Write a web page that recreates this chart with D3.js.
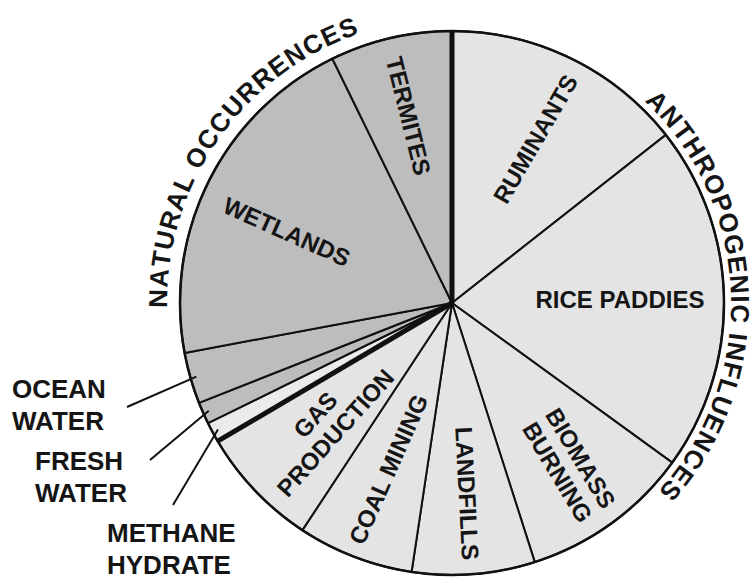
<!DOCTYPE html>
<html>
<head>
<meta charset="utf-8">
<script src="https://cdn.jsdelivr.net/npm/d3@7"></script>
<style>
    body { margin: 0; background: #ffffff; }
    text { font-family: "Liberation Sans", Arial, sans-serif; font-weight: bold; fill: #151515; }
</style>
</head>
<body>
<div id="chart"></div>
<script>
/*
 * Methane sources pie
 * Slices run clockwise from 12 o'clock, anthropogenic first, then natural.
 */

// share of total (percent)
var categories = ["RUMINANTS", "RICE PADDIES", "BIOMASS BURNING", "LANDFILLS", "COAL MINING",
                  "GAS PRODUCTION", "METHANE HYDRATE", "FRESH WATER", "OCEAN WATER", "WETLANDS", "TERMITES"];
var shares     = [14.4, 20.6, 10.1, 7.3, 6.9, 7.25, 1.2, 1.3, 3.05, 20.7, 7.25];
var groups     = ["anthropogenic", "anthropogenic", "anthropogenic", "anthropogenic", "anthropogenic",
                  "anthropogenic", "natural", "natural", "natural", "natural", "natural"];
var groupNames = ["ANTHROPOGENIC INFLUENCES", "NATURAL OCCURRENCES"];

var width  = 756,
    height = 581,
    cx     = 452,
    cy     = 303,
    radius = 272;

var fills = { anthropogenic: "#e4e4e4", natural: "#bdbdbd", light: "#ebebeb" };

// labels drawn inside their slice: distance from centre, angle nudge (deg) and text rotation
var inner = {
    "RUMINANTS":       { lines: ["RUMINANTS"],          r: 184, da: 1,    rot: -60 },
    "RICE PADDIES":    { lines: ["RICE PADDIES"],       r: 168, da: 0,    rot: 0 },
    "BIOMASS BURNING": { lines: ["BIOMASS", "BURNING"], r: 200, da: 0,    rot: 59 },
    "LANDFILLS":       { lines: ["LANDFILLS"],          r: 191, da: 0,    rot: 87 },
    "COAL MINING":     { lines: ["COAL MINING"],        r: 178, da: 0,    rot: -66 },
    "GAS PRODUCTION":  { lines: ["GAS", "PRODUCTION"],  r: 175, da: 0,    rot: -48 },
    "WETLANDS":        { lines: ["WETLANDS"],           r: 180, da: -3.3, rot: 24 },
    "TERMITES":        { lines: ["TERMITES"],           r: 192, da: 0,    rot: 76 }
};

// small slices get an outside label with a pointer line
var callouts = {
    "OCEAN WATER":     { lines: ["OCEAN", "WATER"],     x: 12,  y: 398, from: [127, 407] },
    "FRESH WATER":     { lines: ["FRESH", "WATER"],     x: 35,  y: 470, from: [150, 460] },
    "METHANE HYDRATE": { lines: ["METHANE", "HYDRATE"], x: 107, y: 542, from: [173, 505] }
};

// titles written round the rim: centre angle (degrees) and baseline radius
var titleLayout = {
    "ANTHROPOGENIC INFLUENCES": { angle: 88,  r: 279 },
    "NATURAL OCCURRENCES":      { angle: 305, r: 285 }
};

var data = categories.map(function(c, i) {
    return { name: c, value: shares[i], group: groups[i] };
});

var svg = d3.select("#chart").append("svg")
    .attr("width", width)
    .attr("height", height);

var g = svg.append("g")
    .attr("transform", "translate(" + cx + "," + cy + ")");

var pie = d3.pie()
    .sort(null)
    .value(function(d) { return d.value; });

var arcs = pie(data);

var arc = d3.arc()
    .innerRadius(0)
    .outerRadius(radius);

//Slices
g.selectAll("path.slice")
    .data(arcs)
    .enter().append("path")
    .attr("class", "slice")
    .attr("d", arc)
    .attr("fill", function(d) {
        if (d.data.name == "METHANE HYDRATE") return fills.light;
        return fills[d.data.group];
    })
    .attr("stroke", "#111")
    .attr("stroke-width", 2)
    .attr("stroke-linejoin", "round");

//Outer rim
g.append("circle")
    .attr("r", radius)
    .attr("fill", "none")
    .attr("stroke", "#111")
    .attr("stroke-width", 2.5);

//Thick lines where one group meets the other
var splits = arcs.filter(function(d, i) {
    var prev = arcs[(i + arcs.length - 1) % arcs.length];
    return prev.data.group != d.data.group;
});

g.selectAll("line.split")
    .data(splits)
    .enter().append("line")
    .attr("class", "split")
    .attr("x1", 0)
    .attr("y1", 0)
    .attr("x2", function(d) { return radius * Math.sin(d.startAngle); })
    .attr("y2", function(d) { return -radius * Math.cos(d.startAngle); })
    .attr("stroke", "#111")
    .attr("stroke-width", 5);

//Inside labels
var fontSize = 24,
    lineH    = 27;

arcs.forEach(function(d) {
    var lab = inner[d.data.name];
    if (!lab) return;
    var a = (d.startAngle + d.endAngle) / 2 + lab.da * Math.PI / 180;
    var px = lab.r * Math.sin(a),
        py = -lab.r * Math.cos(a);
    var t = g.append("text")
        .attr("transform", "translate(" + px + "," + py + ") rotate(" + lab.rot + ")")
        .attr("text-anchor", "middle")
        .style("font-size", fontSize + "px");
    lab.lines.forEach(function(s, i) {
        t.append("tspan")
            .attr("x", 0)
            .attr("y", (i - (lab.lines.length - 1) / 2) * lineH + fontSize * 0.36)
            .text(s);
    });
});

//Callouts for the thin slices
arcs.forEach(function(d) {
    var c = callouts[d.data.name];
    if (!c) return;
    var tip = d3.arc().innerRadius(radius - 6).outerRadius(radius - 6).centroid(d);
    svg.append("line")
        .attr("x1", c.from[0])
        .attr("y1", c.from[1])
        .attr("x2", cx + tip[0])
        .attr("y2", cy + tip[1])
        .attr("stroke", "#111")
        .attr("stroke-width", 2);
    var t = svg.append("text")
        .style("font-size", "26px");
    c.lines.forEach(function(s, i) {
        t.append("tspan")
            .attr("x", c.x)
            .attr("y", c.y + i * 32)
            .text(s);
    });
});

//Group titles round the rim, one letter at a time
var titleSize = 26,
    spacing = 1.2;

var probe = svg.append("text").style("font-size", titleSize + "px");

groupNames.forEach(function(name) {
    var R = titleLayout[name].r;
    var chars = name.split("");
    var widths = chars.map(function(ch) {
        probe.text(ch == " " ? "\u00a0" : ch);
        return probe.node().getComputedTextLength();
    });
    var total = d3.sum(widths) + spacing * (chars.length - 1);
    var a0 = titleLayout[name].angle * Math.PI / 180 - total / 2 / R;
    var run = 0;
    var tg = g.append("g").attr("class", "title");
    chars.forEach(function(ch, i) {
        var a = a0 + (run + widths[i] / 2) / R;
        run += widths[i] + spacing;
        if (ch == " ") return;
        tg.append("text")
            .attr("transform", "translate(" + (R * Math.sin(a)) + "," + (-R * Math.cos(a)) + ") rotate(" + (a * 180 / Math.PI) + ")")
            .attr("text-anchor", "middle")
            .style("font-size", titleSize + "px")
            .text(ch);
    });
});

probe.remove();
</script>
</body>
</html>
